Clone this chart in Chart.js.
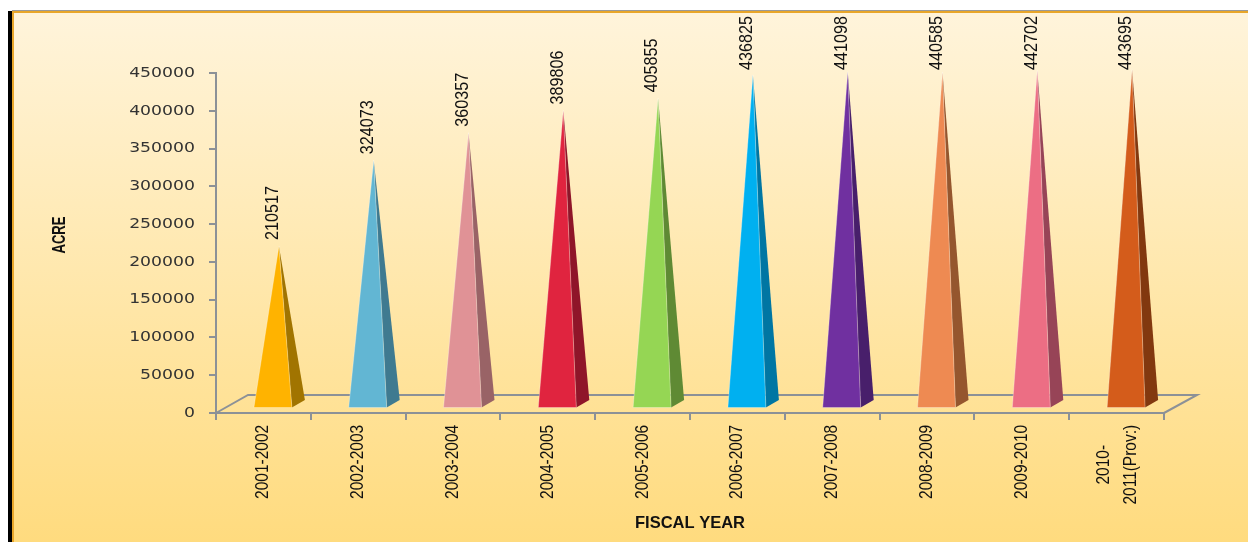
<!DOCTYPE html>
<html>
<head>
<meta charset="utf-8">
<title>Acre by fiscal year</title>
<style>
  html, body { margin: 0; padding: 0; background: #fff; overflow: hidden; }
  .frame {
    position: absolute; left: 12px; top: 11px; width: 1234px; height: 531px;
    background: linear-gradient(#FFF4DB, #FFDB7E);
    border-left: 2px solid #E8A62A; border-top: 2px solid #E8A62A; border-right: 2px solid #E8A62A;
    box-sizing: content-box;
    box-shadow: -4px 0 0 #000, 0 -1px 0 #999;
  }
  #grafico { position: absolute; left: 0; top: 0; }
</style>
</head>
<body>
<div class="frame"></div>
<canvas id="grafico" width="1248" height="542"></canvas>
<script src="https://cdn.jsdelivr.net/npm/chart.js@4"></script>
<script>
const categories = ['2001-2002', '2002-2003', '2003-2004', '2004-2005', '2005-2006', '2006-2007', '2007-2008', '2008-2009', '2009-2010', ['2010-', '2011(Prov:)']];
const acres = [210517, 324073, 360357, 389806, 405855, 436825, 441098, 440585, 442702, 443695];
const frontColors = ['#FFB300', '#62B6D3', '#E09296', '#E0243F', '#95D654', '#00B0F0', '#7030A0', '#EE8A52', '#EC6E84', '#D45C1B'];
const sideColors = ['#A17400', '#3F7A90', '#996366', '#8F1529', '#5F8A34', '#0076A3', '#481F6B', '#95562E', '#974457', '#82380F'];

const axisColor = '#8C9197';
const depthX = 32;   // 3D floor offset
const depthY = 18;
const tickTextTop = 424;   // where the rotated category labels start

// run one of a scale's draw methods under an extra canvas transform
function transformDraw(scale, method, apply) {
    const draw = scale[method];
    scale[method] = function (...args) {
        scale.ctx.save();
        apply(scale.ctx);
        draw.apply(scale, args);
        scale.ctx.restore();
    };
}

// axis text: narrow category labels, wide y labels, narrow ACRE title
const axisTextPlugin = {
    id: 'axisText',
    afterUpdate(chart) {
        const { x, y } = chart.scales;
        if (x.textReady) return;
        x.textReady = true;
        transformDraw(x, 'drawLabels', ctx => {
            ctx.translate(0, tickTextTop);
            ctx.scale(1, 0.86);
            ctx.translate(0, -tickTextTop);
        });
        transformDraw(y, 'drawLabels', ctx => {
            ctx.translate(195, 0);
            ctx.scale(1.19, 1);
            ctx.translate(-195, 0);
        });
        const mid = (y.top + y.bottom) / 2;
        transformDraw(y, 'drawTitle', ctx => {
            ctx.translate(0, mid - 8);
            ctx.scale(1, 0.69);
            ctx.translate(0, -mid);
        });
    }
};

// floor of the 3D plot, behind the pyramids
const floorPlugin = {
    id: 'floor',
    beforeDatasetsDraw(chart) {
        const { ctx, chartArea: a } = chart;
        ctx.save();
        ctx.strokeStyle = axisColor;
        ctx.lineWidth = 2;
        ctx.beginPath();
        ctx.moveTo(a.left, a.bottom);
        ctx.lineTo(a.left + depthX, a.bottom - depthY);
        ctx.lineTo(a.right + depthX + 1, a.bottom - depthY);
        ctx.lineTo(a.right, a.bottom);
        ctx.stroke();
        ctx.restore();
    }
};

// each bar is drawn as a pyramid with a front and a side face
const pyramidPlugin = {
    id: 'pyramids',
    beforeDatasetDraw(chart, args) {
        const { ctx } = chart;
        ctx.save();
        args.meta.data.forEach((bar, i) => {
            const apexX = bar.x + 15.5;
            const apexY = bar.y - 8;
            const left = bar.x - 9.5;
            const right = bar.x + 28.5;
            const baseY = bar.base - 4.5;

            ctx.fillStyle = sideColors[i];
            ctx.beginPath();
            ctx.moveTo(right, baseY);
            ctx.lineTo(right + 13, baseY - 7.5);
            ctx.lineTo(apexX, apexY);
            ctx.closePath();
            ctx.fill();

            ctx.fillStyle = frontColors[i];
            ctx.strokeStyle = 'rgba(255,255,255,0.3)';
            ctx.lineWidth = 1;
            ctx.beginPath();
            ctx.moveTo(left, baseY);
            ctx.lineTo(right, baseY);
            ctx.lineTo(apexX, apexY);
            ctx.closePath();
            ctx.fill();
            ctx.stroke();

            // value above the tip, kept inside the frame
            ctx.save();
            ctx.translate(apexX - 6, Math.max(apexY - 6, 70));
            ctx.rotate(-Math.PI / 2);
            ctx.scale(0.85, 1);
            ctx.font = '19px "Liberation Sans"';
            ctx.fillStyle = '#111';
            ctx.textAlign = 'left';
            ctx.textBaseline = 'middle';
            ctx.fillText(String(acres[i]), 0, 0);
            ctx.restore();
        });
        ctx.restore();
        return false;
    }
};

// wrapped category label: center both lines on each other and around the tick
const wrappedTickPlugin = {
    id: 'wrappedTick',
    afterUpdate(chart) {
        const { ctx, scales } = chart;
        scales.x.getLabelItems(chart.chartArea).forEach(item => {
            if (!Array.isArray(item.label)) return;
            ctx.save();
            ctx.font = item.font.string;
            const longest = Math.max(...item.label.map(t => ctx.measureText(t).width));
            ctx.restore();
            item.options.textAlign = 'center';
            item.options.translation[0] -= 13;
            item.options.translation[1] += longest / 2;
        });
    }
};

new Chart(document.getElementById('grafico'), {
    type: 'bar',
    data: {
        labels: categories,
        datasets: [{ label: 'ACRE', data: acres, backgroundColor: frontColors }]
    },
    options: {
        responsive: false,
        animation: false,
        layout: { padding: { top: 73, right: 84, left: 0, bottom: 0 } },
        plugins: { legend: { display: false }, tooltip: { enabled: false } },
        scales: {
            x: {
                afterFit(scale) { scale.height = 129; },
                grid: { color: axisColor, drawOnChartArea: false, tickLength: 7, lineWidth: 2 },
                border: { color: axisColor, width: 2 },
                ticks: {
                    autoSkip: false, minRotation: 90, maxRotation: 90, padding: 5,
                    color: '#111',
                    font: { family: '"Liberation Sans"', size: 18, lineHeight: 1.55 }
                },
                title: {
                    display: true, text: 'FISCAL YEAR', color: '#111',
                    padding: { top: 0, bottom: 9 },
                    font: { family: '"Liberation Sans"', size: 16.5, weight: 'bold' }
                }
            },
            y: {
                min: 0, max: 450000,
                afterFit(scale) { scale.width = 216; },
                grid: { color: axisColor, drawOnChartArea: false, tickLength: 7, lineWidth: 2 },
                border: { color: axisColor, width: 2 },
                ticks: {
                    stepSize: 50000, padding: 14, color: '#333',
                    font: { family: '"DejaVu Sans"', size: 14.5 },
                    callback: value => String(value)
                },
                title: {
                    display: true, text: 'ACRE', color: '#111',
                    padding: { top: 48, bottom: 0 },
                    font: { family: '"Liberation Sans"', size: 19, weight: 'bold' }
                }
            }
        }
    },
    plugins: [axisTextPlugin, floorPlugin, pyramidPlugin, wrappedTickPlugin]
});
</script>
</body>
</html>
